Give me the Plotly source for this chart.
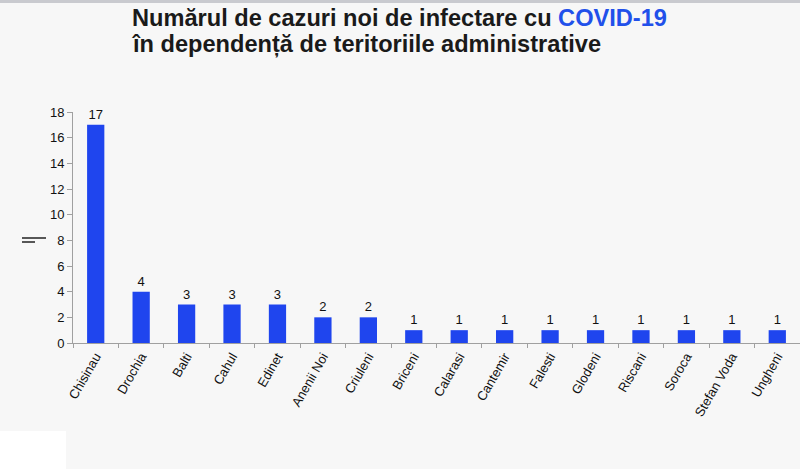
import plotly.graph_objects as go

districts = ["Chisinau", "Drochia", "Balti", "Cahul", "Edinet", "Anenii Noi", "Criuleni",
             "Briceni", "Calarasi", "Cantemir", "Falesti", "Glodeni", "Riscani", "Soroca",
             "Stefan Voda", "Ungheni"]
cases = [17, 4, 3, 3, 3, 2, 2, 1, 1, 1, 1, 1, 1, 1, 1, 1]
y_ticks = [0, 2, 4, 6, 8, 10, 12, 14, 16, 18]

title_line1 = "Numărul de cazuri noi de infectare cu <span style='color:#2150ea'>COVID-19</span>"
title_line2 = "în dependență de teritoriile administrative"

# plot area in pixels: x 73..800, y 112..343
PW, PH = 727, 231


def py(pix_y):
    return (343 - pix_y) / PH


def px(pix_x):
    return (pix_x - 73) / PW


fig = go.Figure()

fig.add_trace(go.Bar(
    x=districts,
    y=cases,
    text=cases,
    textposition="outside",
    textfont=dict(size=13, color="#111111"),
    cliponaxis=False,
    marker=dict(color="#1f45ee", line=dict(width=0)),
    width=0.38,
))

fig.update_layout(
    width=800, height=469,
    paper_bgcolor="#f7f7f7",
    plot_bgcolor="#f7f7f7",
    font=dict(family="Liberation Sans, Arial, sans-serif", size=13, color="#111111"),
    margin=dict(l=73, r=0, t=112, b=126),
    showlegend=False,
    xaxis=dict(
        type="category",
        tickangle=-60,
        showline=True, linecolor="#a0a0a0", linewidth=1,
        ticks="outside", tickson="boundaries", ticklen=4, tickcolor="#a0a0a0",
        showgrid=False,
        tickfont=dict(size=13, color="#111111"),
    ),
    yaxis=dict(
        range=[0, 18],
        tickvals=y_ticks,
        showline=True, linecolor="#a0a0a0", linewidth=1,
        ticks="outside", ticklen=5, tickcolor="#a0a0a0",
        showgrid=False, zeroline=False,
        tickfont=dict(size=13, color="#111111"),
    ),
    annotations=[
        dict(text="<b>" + title_line1 + "</b>", xref="paper", yref="paper",
             x=px(130), y=py(18), xanchor="left", yanchor="middle", showarrow=False,
             font=dict(size=23.6, color="#1a1a1a")),
        dict(text="<b>" + title_line2 + "</b>", xref="paper", yref="paper",
             x=px(130), y=py(44), xanchor="left", yanchor="middle", showarrow=False,
             font=dict(size=23.6, color="#1a1a1a")),
    ],
    shapes=[
        dict(type="rect", xref="paper", yref="paper", x0=px(0), x1=px(800),
             y0=py(3), y1=py(0), fillcolor="#c9cacf", line=dict(width=0), layer="below"),
        dict(type="rect", xref="paper", yref="paper", x0=px(0), x1=px(66),
             y0=py(469), y1=py(431), fillcolor="#ffffff", line=dict(width=0), layer="below"),
        dict(type="line", xref="paper", yref="paper", x0=px(22), x1=px(46),
             y0=py(238), y1=py(238), line=dict(color="#222222", width=1.5)),
        dict(type="line", xref="paper", yref="paper", x0=px(22), x1=px(35),
             y0=py(242), y1=py(242), line=dict(color="#222222", width=1.5)),
    ],
)

fig.write_html("out.html", config={"displayModeBar": False},
               post_script="document.body.style.margin='0';")
